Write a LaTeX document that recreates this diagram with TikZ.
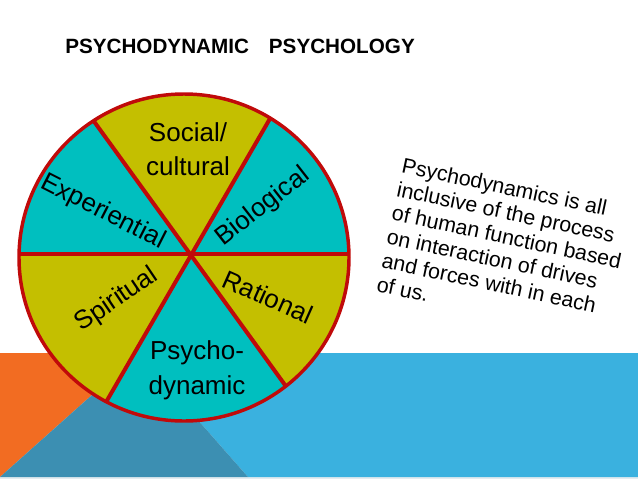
\documentclass[tikz,border=0pt]{standalone}
\usepackage{fontspec}
\setmainfont{Liberation Sans}
\definecolor{orng}{HTML}{F26C22}
\definecolor{lblue}{HTML}{3AB1DF}
\definecolor{dblue}{HTML}{3C8FB2}
\definecolor{olive}{HTML}{C4BF00}
\definecolor{cyanw}{HTML}{00BFBF}
\definecolor{redw}{HTML}{C00A0A}
\definecolor{strip}{HTML}{E4ECF0}
\tikzset{
  wlabel/.style={inner sep=0pt, font=\fontsize{19.5}{25.5}\selectfont, align=center},
  spoke/.style={draw=redw, line width=3pt},
}
\begin{document}
\begin{tikzpicture}[x=0.75pt,y=-0.75pt]
\useasboundingbox (0,0) rectangle (638,479);
% background band
\fill[strip] (0,476) rectangle (638,479);
\fill[orng] (0,353) -- (139,353) -- (0,477) -- cycle;
\fill[lblue] (139,353) -- (638,353) -- (638,477) -- (248,477) -- cycle;
\fill[dblue] (0,477) -- (139,353) -- (248,477) -- cycle;
% title
\node[anchor=base west, inner sep=0pt, font=\bfseries\fontsize{15.5}{18}\selectfont] (title) at (65,53) {PSYCHODYNAMIC\hspace{15pt}PSYCHOLOGY};
% wheel
\coordinate (hub) at (190,254);
\coordinate (ul) at (72.7,92);
\coordinate (ur) at (291.4,81.6);
\coordinate (l) at (-10,254);
\coordinate (r) at (390,254);
\coordinate (ll) at (91.2,427.8);
\coordinate (lr) at (307.4,415.9);
\begin{scope}
  \clip (184,257.5) ellipse [x radius=166, y radius=164.5];
  \fill[olive] (0,80) rectangle (400,440);
  \fill[cyanw] (hub) -- (-10,254) -- (-10,40) -- (35,40) -- cycle;
  \fill[cyanw] (hub) -- (316,40) -- (400,40) -- (400,254) -- cycle;
  \fill[cyanw] (hub) -- (67,470) -- (347,470) -- cycle;
  \draw[spoke] (ul) -- (lr);
  \draw[spoke] (ur) -- (ll);
  \draw[spoke] (l) -- (r);
\end{scope}
\draw[draw=redw, line width=2.6pt] (184,257.5) ellipse [x radius=165, y radius=163.5];
% wheel labels
\node[wlabel] (social) at (188,149) {Social/\\cultural};
\node[wlabel, rotate=-27] (exper) at (103,212) {Experiential};
\node[wlabel, rotate=38] (bio) at (263,207) {Biological};
\node[wlabel, rotate=34] (spirit) at (117,300) {Spiritual};
\node[wlabel, rotate=-24] (ration) at (268,297) {Rational};
\node[wlabel, font=\fontsize{19.5}{26}\selectfont] (psycho) at (197,370) {Psycho-\\dynamic};
% description
\node[rotate=-12, anchor=north west, align=left, inner sep=0pt, font=\fontsize{16}{18.2}\selectfont] (desc) at (404,157) {Psychodynamics is all\\inclusive of the process\\of human function based\\on interaction of drives\\and forces with in each\\of us.};
\end{tikzpicture}
\end{document}
